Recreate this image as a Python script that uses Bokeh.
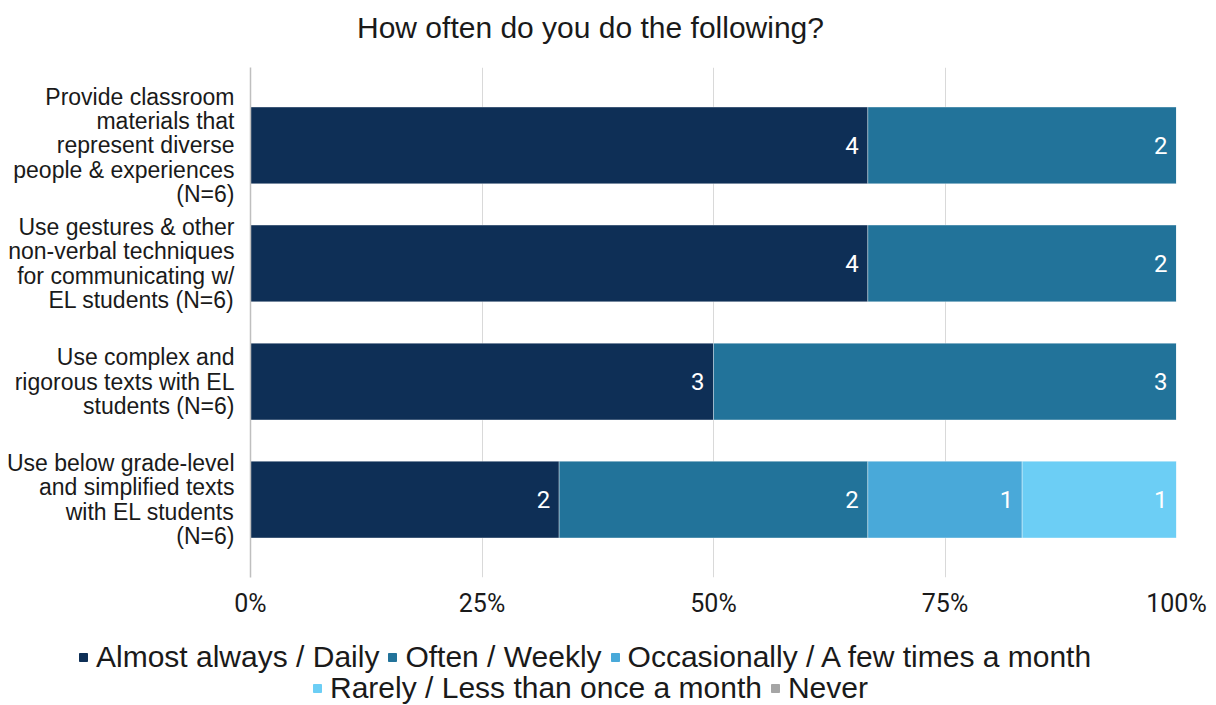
from bokeh.plotting import figure
from bokeh.layouts import column
from bokeh.models import (ColumnDataSource, FixedTicker, Legend, LegendItem,
                          NumeralTickFormatter, Range1d, Label)
from bokeh.core.properties import value
from bokeh.embed import file_html
from bokeh.resources import INLINE

title = "How often do you do the following?"
categories = [
    "Provide classroom\nmaterials that\nrepresent diverse\npeople & experiences\n(N=6)",
    "Use gestures & other\nnon-verbal techniques\nfor communicating w/\nEL students (N=6)",
    "Use complex and\nrigorous texts with EL\nstudents (N=6)",
    "Use below grade-level\nand simplified texts\nwith EL students\n(N=6)",
]
series = ["Almost always / Daily", "Often / Weekly",
          "Occasionally / A few times a month",
          "Rarely / Less than once a month", "Never"]
almost_always = [4, 4, 3, 2]
often = [2, 2, 3, 2]
occasionally = [0, 0, 0, 1]
rarely = [0, 0, 0, 1]
never = [0, 0, 0, 0]
n_resp = [6, 6, 6, 6]
colors = ["#0E2F56", "#22739A", "#49A9D9", "#6CCEF5", "#A5A5A5"]
x_ticks = [0, 0.25, 0.5, 0.75, 1.0]

counts = [almost_always, often, occasionally, rarely, never]
ypos = [len(categories) - 1 - i for i in range(len(categories))]

data = {"y": ypos}
for name, vals in zip(series, counts):
    data[name] = [v / n for v, n in zip(vals, n_resp)]
src = ColumnDataSource(data)


def strip(h):
    f = figure(width=1216, height=h, output_backend="svg", toolbar_location=None,
               x_range=Range1d(0, 1), y_range=Range1d(0, 1),
               min_border_left=0, min_border_right=0, min_border_top=0,
               min_border_bottom=0)
    f.axis.visible = False
    f.grid.visible = False
    f.outline_line_color = None
    f.background_fill_color = "white"
    f.border_fill_color = "white"
    return f

# title strip
tf = strip(67)
tf.add_layout(Label(x=590, y=40, x_units="screen", y_units="screen", text=title,
                    text_align="center", text_baseline="middle",
                    text_font="Liberation Sans", text_font_size="30px",
                    text_color="#1a1a1a"))

# main chart
p = figure(width=1216, height=558, output_backend="svg", toolbar_location=None,
           x_range=Range1d(0, 1), y_range=Range1d(-0.66, len(categories) - 1 + 0.66),
           min_border_left=250, min_border_right=40, min_border_top=0,
           min_border_bottom=48)
p.outline_line_color = None
p.background_fill_color = "white"
p.border_fill_color = "white"

renderers = p.hbar_stack(series, y="y", height=0.65, color=colors, source=src,
                         line_color="white", line_width=0.6, line_alpha=0.6)

# value labels
lx, ly, lt = [], [], []
for i in range(len(categories)):
    cum = 0.0
    for vals in counts:
        v = vals[i]
        cum += v / n_resp[i]
        if v > 0:
            lx.append(cum)
            ly.append(ypos[i])
            lt.append(str(v))
p.text(x=lx, y=ly, text=lt, text_align="right", text_baseline="middle",
       x_offset=-9, text_color="white", text_font=value("Roboto"),
       text_font_size="24px")

p.xaxis.ticker = FixedTicker(ticks=x_ticks)
p.xaxis.formatter = NumeralTickFormatter(format="0%")
p.xaxis.axis_line_color = None
p.xaxis.major_tick_line_color = None
p.xaxis.minor_tick_line_color = None
p.xaxis.major_tick_out = 0
p.xaxis.major_tick_in = 0
p.xaxis.major_label_standoff = 11
p.xaxis.major_label_text_font = "Roboto"
p.xaxis.major_label_text_font_size = "25px"
p.xaxis.major_label_text_color = "#1a1a1a"

p.yaxis.ticker = FixedTicker(ticks=ypos)
p.yaxis.major_label_overrides = {y: c for y, c in zip(ypos, categories)}
p.yaxis.axis_line_color = "#BFBFBF"
p.yaxis.axis_line_width = 1.5
p.yaxis.major_tick_line_color = None
p.yaxis.minor_tick_line_color = None
p.yaxis.major_label_standoff = 10
p.yaxis.major_label_text_font = "Liberation Sans"
p.yaxis.major_label_text_font_size = "23px"
p.yaxis.major_label_text_color = "#1a1a1a"
p.yaxis.major_label_text_align = "right"
p.yaxis.major_label_text_line_height = 0.93

p.xgrid.ticker = FixedTicker(ticks=x_ticks[1:])
p.xgrid.grid_line_color = "#D9D9D9"
p.xgrid.grid_line_width = 1
p.ygrid.grid_line_color = None

# legend strip below the chart
lf = strip(80)
leg_r = [lf.hbar(y=[-10], left=[0], right=[0.001], height=0.5, color=c)
         for c in colors]

def make_legend(idx, loc):
    return Legend(items=[LegendItem(label=series[i], renderers=[leg_r[i]]) for i in idx],
                  orientation="horizontal", location=loc,
                  label_text_font="Liberation Sans", label_text_font_size="30px",
                  label_text_color="#1a1a1a", glyph_width=10, glyph_height=10,
                  label_standoff=8, spacing=8, padding=0, margin=0,
                  label_height=30,
                  border_line_color=None, background_fill_alpha=0)

lf.add_layout(make_legend([0, 1, 2], (78, 31)))
lf.add_layout(make_legend([3, 4], (312, 0)))

layout = column(column(tf, spacing=0), p, column(lf, spacing=0), spacing=0)
open("out.html", "w").write(file_html(layout, INLINE))
